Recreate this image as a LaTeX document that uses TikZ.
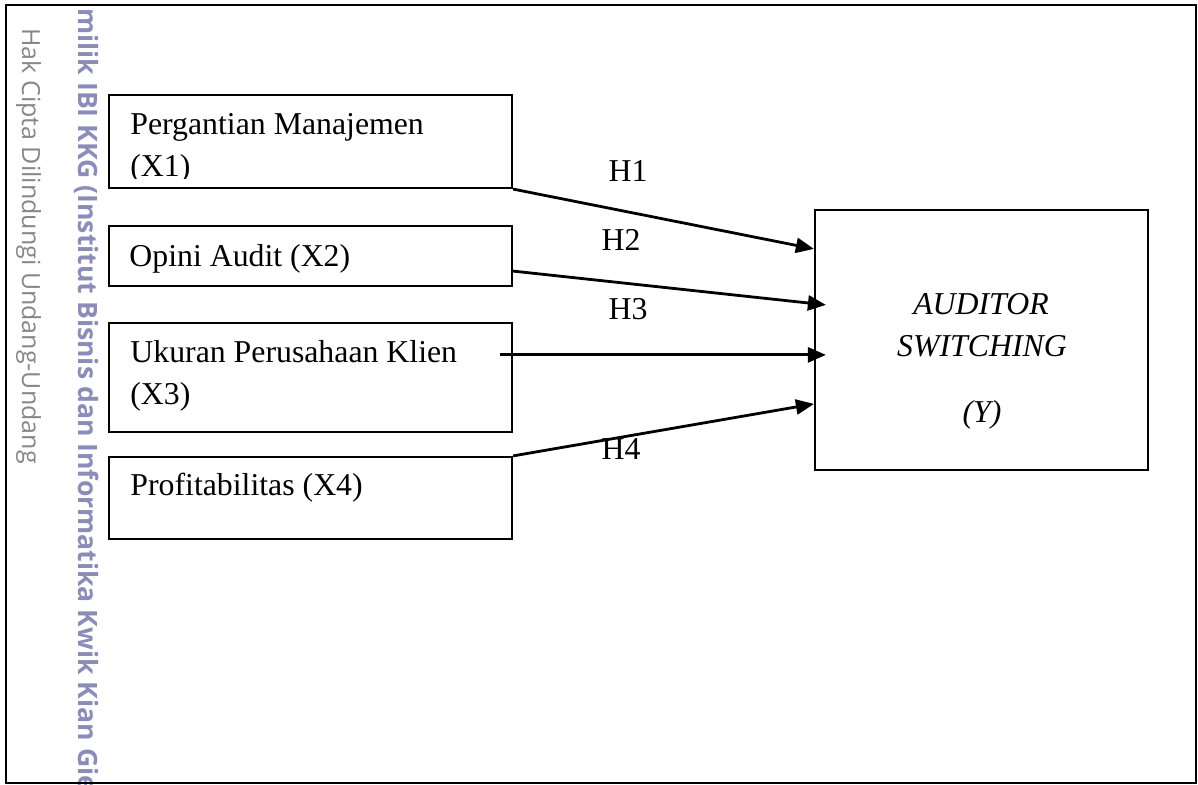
\documentclass[tikz,border=0pt]{standalone}
\usepackage{fontspec}
\setmainfont{Liberation Serif}
\newfontfamily\wmfont{Open Sans}
\usetikzlibrary{arrows.meta,fit,calc}
\definecolor{wmgray}{RGB}{135,135,135}
\definecolor{wmpurple}{RGB}{140,140,185}
\begin{document}
\begin{tikzpicture}[x=0.5pt,y=-0.5pt,
  box/.style={draw=black,line width=1.1pt,inner sep=0pt},
  txt/.style={font=\fontsize{15.9}{21}\selectfont,inner sep=0pt,anchor=base west},
  ytxt/.style={font=\fontsize{15.9}{21}\selectfont\itshape,inner sep=0pt,anchor=base},
  hlab/.style={font=\fontsize{15.9}{21}\selectfont,inner sep=0pt,anchor=base},
  arr/.style={line width=1.4pt,-{Triangle[length=9pt,width=7.5pt]}},
  wmg/.style={font=\wmfont\fontsize{12.5}{15}\selectfont,text=wmgray,rotate=-90,anchor=base west,inner sep=0pt},
  wmp/.style={font=\wmfont\bfseries\fontsize{13.3}{16}\selectfont,text=wmpurple,rotate=-90,anchor=base west,inner sep=0pt}
]
\useasboundingbox (0,0) rectangle (1198,785);
\clip (0,0) rectangle (1198,785);
\fill[white] (0,0) rectangle (1198,785);

% watermark
\node[wmg] (wm1) at (22,28) {Hak Cipta Dilindungi Undang-Undang};
\node[wmp] (wm2) at (78,8) {milik IBI KKG (Institut Bisnis dan Informatika Kwik Kian Gie};

% outer frame
\node[box,fit={(6,5) (1196,783)}] (frame) {};

% boxes
\node[box,fit={(109,95) (512,188)}] (x1) {};
\node[box,fit={(109,226) (512,286)}] (x2) {};
\node[box,fit={(109,323) (512,432)}] (x3) {};
\node[box,fit={(109,457) (512,539)}] (x4) {};
\node[box,fit={(815,210) (1148,470)}] (y) {};

% texts
\begin{scope}
\clip (109,95) rectangle (512,178.5);
\node[txt] (x1a) at (130,135) {Pergantian Manajemen};
\node[txt] (x1b) at (130,177) {(X1)};
\end{scope}
\node[txt] (x2a) at (129,267) {Opini Audit (X2)};
\node[txt] (x3a) at (130,363) {Ukuran Perusahaan Klien};
\node[txt] (x3b) at (130,405) {(X3)};
\node[txt] (x4a) at (130,495) {Profitabilitas (X4)};

\node[ytxt] (ya) at (981,315) {AUDITOR};
\node[ytxt] (yb) at (982,357) {SWITCHING};
\node[ytxt] (yc) at (982,423) {(Y)};

% arrow endpoints
\coordinate (e1) at ($(y.north west)+(0,40)$);
\coordinate (e2) at ($(y.north west)+(12,96)$);
\coordinate (e3) at ($(y.north west)+(12,146)$);
\coordinate (e4) at ($(y.north west)+(0,195)$);
\coordinate (s2) at ($(x2.south east)+(0,-16)$);
\coordinate (s3) at ($(x3.north east)+(-13,33)$);

\draw[arr] (x1.south east) -- (e1);
\draw[arr] (s2) -- (e2);
\draw[arr] (s3) -- (e3);
\draw[arr] (x4.north east) -- (e4);

\node[hlab] (h1) at (628,182) {H1};
\node[hlab] (h2) at (621,251) {H2};
\node[hlab] (h3) at (628,320) {H3};
\node[hlab] (h4) at (621,459) {H4};
\end{tikzpicture}
\end{document}
